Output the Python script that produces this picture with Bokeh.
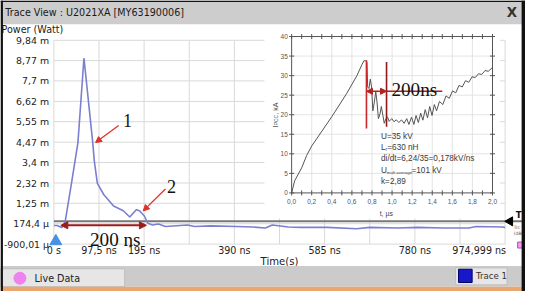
import numpy as np
from bokeh.plotting import figure
from bokeh.models import Range1d, Arrow, NormalHead
from bokeh.core.properties import value
from bokeh.embed import file_html
from bokeh.resources import INLINE

# ------------------------------------------------------------------ data
# main trace: power (mW) versus time (ns)
trace_t_ns = [0, 7, 17, 21, 24.5, 38, 52, 65, 84, 87.5, 94, 108, 129, 150, 164,
              178, 185, 195.5, 203, 213, 226, 241, 289, 304, 339, 395, 430, 457,
              472, 507, 535, 591, 654, 682, 744, 786, 842, 897, 912, 969, 975]
trace_p_mw = [0.08, 0.08, -0.02, 0.10, 0.30, 2.30, 4.45, 8.91, 4.45, 3.45, 2.30,
              1.70, 1.11, 0.86, 0.53, 0.91, 0.86, 0.58, 0.20, 0.11, 0.16, 0.03,
              0.11, 0.03, 0.06, 0.03, 0.00, -0.05, 0.11, 0.00, -0.02, -0.02,
              -0.09, -0.02, -0.05, -0.02, -0.05, -0.05, 0.03, 0.00, -0.02]
trigger_level_mw = 0.3

y_tick_vals = [-0.90001, 0.1744, 1.25, 2.32, 3.40, 4.47, 5.55, 6.62, 7.70, 8.77, 9.84]
y_tick_labels = ["-900,01 µ", "174,4 µ", "1,25 m", "2,32 m", "3,4 m", "4,47 m",
                 "5,55 m", "6,62 m", "7,7 m", "8,77 m", "9,84 m"]
x_grid_vals = [0, 97.5, 195, 292.5, 390, 487.5, 585, 682.5, 780, 877.5, 975]
x_tick_vals = [0, 97.5, 195, 390, 585, 780]
x_tick_labels = ["0 s", "97,5 ns", "195 ns", "390 ns", "585 ns", "780 ns"]
x_last_tick = 974.999
x_last_label = "974,999 ns"

# inset: current (kA) versus time (µs)
inset_t_us = [0.0, 0.03, 0.1, 0.15, 0.2, 0.4, 0.55, 0.65, 0.7, 0.72, 0.74, 0.75,
              0.757, 0.77, 0.783, 0.796, 0.809, 0.822, 0.838, 0.851, 0.864, 0.88,
              0.893, 0.909, 0.922, 0.939, 0.955, 0.971, 0.997, 1.019, 1.042, 1.068,
              1.094, 1.12, 1.146, 1.168, 1.194, 1.217, 1.239, 1.262, 1.285, 1.307,
              1.33, 1.353, 1.375, 1.398, 1.421, 1.443, 1.472, 1.505, 1.537, 1.57,
              1.602, 1.634, 1.667, 1.699, 1.731, 1.764, 1.796, 1.828, 1.861, 1.893,
              1.926, 1.958, 2.0]
inset_i_ka = [0.0, 3.1, 6.4, 9.6, 12.0, 19.5, 25.5, 30.0, 32.8, 33.8, 33.8, 33.5,
              27.1, 26.7, 29.1, 27.1, 21.0, 23.0, 25.9, 23.0, 19.0, 20.2,
              22.1, 19.8, 17.8, 19.0, 19.4, 18.3, 19.0, 18.2, 18.7, 18.0,
              18.7, 17.8, 19.0, 17.5, 19.4, 17.5, 19.8, 18.0, 20.4, 18.6,
              21.3, 19.2, 22.1, 19.8, 22.6, 21.0, 23.4, 22.6, 24.8, 24.2,
              26.1, 25.6, 27.5, 27.1, 28.7, 28.3, 29.7, 29.5, 30.5, 30.3,
              31.3, 31.1, 32.1]
inset_x_ticks = [0.0, 0.2, 0.4, 0.6, 0.8, 1.0, 1.2, 1.4, 1.6, 1.8, 2.0]
inset_x_labels = ["0,0", "0,2", "0,4", "0,6", "0,8", "1,0", "1,2", "1,4", "1,6", "1,8", "2,0"]
inset_x_minor = [0.1, 0.3, 0.5, 0.7, 0.9, 1.1, 1.3, 1.5, 1.7, 1.9]
inset_y_ticks = [0, 5, 10, 15, 20, 25, 30, 35, 40]
inset_y_labels = ["0", "5", "10", "15", "20", "25", "30", "35", "40"]

# 200 ns markers
main_mark_ns = [15, 200]          # ns, on the power trace
main_mark_level = 0.09            # mW
inset_mark_us = [0.745, 0.945]    # µs, on the current trace
inset_mark_ka = 26.0              # kA
inset_line1_ka = [16.5, 33.9]
inset_line2_ka = [16.9, 33.5]
inset_mark_tail_us = 1.5

# numbered call-outs (tip on the trace, tail near the number)
callout_tip_x = [90, 193]
callout_tip_y = [4.45, 0.85]
callout_tail_x = [140, 241]
callout_tail_y = [5.35, 2.0]
callout_text = ["1", "2"]
callout_text_x = [159, 254]
callout_text_y = [5.64, 2.15]

# ------------------------------------------------------------------ layout
W, H = 525, 291              # canvas size (fits the window with its 8px margin)
REF_W, REF_H = 541, 307      # the screenshot extent mapped onto the canvas
SX, SY = W / REF_W, H / REF_H
MAIN_L, MAIN_R, MAIN_T, MAIN_B = 55, 520, 42, 257
INS_L, INS_R, INS_T, INS_B = 300, 507, 38, 203


def fit(v0, p0, v1, p1):
    k = (v1 - v0) / (p1 - p0)
    return lambda q: v0 + (q - p0) * k


def fs(n):
    return f"{n * 0.96:.1f}px"


fx = fit(x_grid_vals[0], MAIN_L, x_grid_vals[-1], MAIN_R)
fy = fit(y_tick_vals[0], MAIN_B, y_tick_vals[-1], MAIN_T)
gx = fit(inset_x_ticks[0], INS_L, inset_x_ticks[-1], INS_R)
gy = fit(inset_y_ticks[0], INS_B, inset_y_ticks[-1], INS_T)

p = figure(width=W, height=H,
           x_range=Range1d(fx(0), fx(REF_W)),
           y_range=Range1d(fy(REF_H), fy(0)),
           output_backend="svg", toolbar_location=None, min_border=0,
           x_axis_type=None, y_axis_type=None, title=None,
           outline_line_color=None, background_fill_color="white",
           border_fill_color="white")
p.extra_x_ranges = {"inset": Range1d(gx(0), gx(REF_W)),
                    "px": Range1d(0, REF_W)}
p.extra_y_ranges = {"inset": Range1d(gy(REF_H), gy(0)),
                    "px": Range1d(REF_H, 0)}

SANS = value("DejaVu Sans")
ARIAL = value("Liberation Sans")
SERIF = value("Liberation Serif")
PX = dict(x_range_name="px", y_range_name="px")
IN = dict(x_range_name="inset", y_range_name="inset")
GRID = "#d9d9d9"
TRACE = "#7b7fcf"
RED = "#e0302a"
DARKRED = "#9c1c1c"

# title bar
p.quad(left=[0], right=[REF_W], top=[0], bottom=[25], fill_color="#cdcdcd",
       line_color=None, **PX)
p.text(x=[5], y=[13], text=["Trace View : U2021XA [MY63190006]"], text_font=SANS,
       text_font_size=fs(10), text_color="#1a1a1a", text_align="left",
       text_baseline="middle", **PX)
p.text(x=[527], y=[13], text=["X"], text_font=SANS, text_font_style="bold",
       text_font_size=fs(14), text_color="#333333", text_align="center",
       text_baseline="middle", **PX)
p.text(x=[1], y=[31], text=["Power (Watt)"], text_font=SANS, text_font_size=fs(10),
       text_color="#222222", text_align="left", text_baseline="middle", **PX)

# main grid
p.segment(x0=x_grid_vals, x1=x_grid_vals, y0=[y_tick_vals[0]] * len(x_grid_vals),
          y1=[y_tick_vals[-1]] * len(x_grid_vals), line_color=GRID, line_width=1)
p.segment(x0=[x_grid_vals[0]] * len(y_tick_vals), x1=[x_grid_vals[-1]] * len(y_tick_vals),
          y0=y_tick_vals, y1=y_tick_vals, line_color=GRID, line_width=1)

# main axis labels
p.text(x=[x_grid_vals[0]] * len(y_tick_vals), y=y_tick_vals, text=y_tick_labels,
       x_offset=-5 * SX, text_font=SANS, text_font_size=fs(9.8), text_color="#222222",
       text_align="right", text_baseline="middle")
p.text(x=x_tick_vals, y=[y_tick_vals[0]] * len(x_tick_vals), text=x_tick_labels,
       y_offset=7 * SY, text_font=SANS, text_font_size=fs(10), text_color="#222222",
       text_align="center", text_baseline="middle")
p.text(x=[x_last_tick], y=[y_tick_vals[0]], text=[x_last_label], x_offset=1,
       y_offset=7 * SY, text_font=SANS, text_font_size=fs(10), text_color="#222222",
       text_align="right", text_baseline="middle")
p.text(x=[(x_grid_vals[0] + x_grid_vals[-1]) / 2], y=[y_tick_vals[0]], text=["Time(s)"],
       y_offset=18 * SY, text_font=SANS, text_font_size=fs(10.5), text_color="#222222",
       text_align="center", text_baseline="middle")

# trigger level line and markers
p.segment(x0=[x_grid_vals[0]], x1=[p.x_range.end], y0=[trigger_level_mw],
          y1=[trigger_level_mw], line_color="#777777", line_width=2)
p.scatter(x=[525], y=[233], marker="triangle", size=9, angle=np.pi / 2,
          fill_color="black", line_color="black", **PX)
p.text(x=[534], y=[226], text=["T"], text_font=SANS, text_font_style="bold",
       text_font_size=fs(9), text_color="#111111", text_align="center",
       text_baseline="middle", **PX)
p.text(x=[529], y=[240], text=["Trc 1"], text_font=SANS, text_font_size="4.5px",
       text_color="#555555", text_align="left", text_baseline="middle", **PX)
p.text(x=[529], y=[246], text=["(dBm"], text_font=SANS, text_font_size="4.5px",
       text_color="#555555", text_align="left", text_baseline="middle", **PX)
p.scatter(x=[536], y=[258], marker="square", size=6, fill_color="#f0a0f0",
          line_color="#c040c0", **PX)
p.scatter(x=[57], y=[254], marker="triangle", size=12, fill_color="#4a90e2",
          line_color="#4a90e2", **PX)

# trace
p.line(trace_t_ns, trace_p_mw, line_color=TRACE, line_width=1.6)

# ------------------------------------------------------------------ inset
p.quad(left=[272], right=[515], top=[28], bottom=[230], fill_color="white",
       line_color=None, **PX)
p.segment(x0=inset_x_ticks[1:-1], x1=inset_x_ticks[1:-1],
          y0=[inset_y_ticks[0]] * 9, y1=[inset_y_ticks[-1]] * 9,
          line_color="#dddddd", line_width=0.8, **IN)
p.segment(x0=[inset_x_ticks[0]] * 7, x1=[inset_x_ticks[-1]] * 7,
          y0=inset_y_ticks[1:-1], y1=inset_y_ticks[1:-1],
          line_color="#dddddd", line_width=0.8, **IN)
p.quad(left=[inset_x_ticks[0]], right=[inset_x_ticks[-1]], bottom=[inset_y_ticks[0]],
       top=[inset_y_ticks[-1]], fill_color=None, line_color="#555555", line_width=1, **IN)
xt_all = inset_x_ticks + inset_x_minor
for yy in (inset_y_ticks[0], inset_y_ticks[-1]):
    p.scatter(x=xt_all, y=[yy] * len(xt_all), marker="dash", size=5, angle=np.pi / 2,
              line_color="#555555", **IN)
for xx in (inset_x_ticks[0], inset_x_ticks[-1]):
    p.scatter(x=[xx] * len(inset_y_ticks), y=inset_y_ticks, marker="dash", size=5,
              line_color="#555555", **IN)
p.text(x=inset_x_ticks, y=[inset_y_ticks[0]] * len(inset_x_ticks), text=inset_x_labels,
       y_offset=9.5 * SY, text_font=ARIAL, text_font_size=fs(6.8), text_color="#555555",
       text_align="center", text_baseline="middle", **IN)
p.text(x=[inset_x_ticks[0]] * len(inset_y_ticks), y=inset_y_ticks, text=inset_y_labels,
       x_offset=-4 * SX, text_font=ARIAL, text_font_size=fs(6.8), text_color="#555555",
       text_align="right", text_baseline="middle", **IN)
p.text(x=[1.0], y=[0], text=["t, µs"], x_offset=-6 * SX, y_offset=21.5 * SY,
       text_font=ARIAL, text_font_size=fs(7.2), text_color="#444444",
       text_align="center", text_baseline="middle", **IN)
# rotated y label: I_PCC, kA
p.text(x=[283], y=[134], text=["I"], angle=np.pi / 2, text_font=ARIAL,
       text_font_size=fs(7.5), text_color="#444444", text_align="left",
       text_baseline="middle", **PX)
p.text(x=[284.5], y=[131.5], text=["PCC"], angle=np.pi / 2, text_font=ARIAL,
       text_font_size=fs(5), text_color="#444444", text_align="left",
       text_baseline="middle", **PX)
p.text(x=[283], y=[120.5], text=[", kA"], angle=np.pi / 2, text_font=ARIAL,
       text_font_size=fs(7.5), text_color="#444444", text_align="left",
       text_baseline="middle", **PX)

p.line(inset_t_us, inset_i_ka, line_color="#555555", line_width=1, **IN)

# inset parameter notes
note_x = 0.89
note_kw = dict(text_font=ARIAL, text_color="#3a3a3a", text_align="left",
               text_baseline="middle", **IN)
p.text(x=[note_x], y=[14.5], text=["U=35 kV"], text_font_size=fs(8.5), **note_kw)
p.text(x=[note_x], y=[11.6], text=["L"], text_font_size=fs(8.5), **note_kw)
p.text(x=[note_x], y=[11.6], text=["r"], x_offset=4.6, y_offset=2,
       text_font_size=fs(5), **note_kw)
p.text(x=[note_x], y=[11.6], text=["=630 nH"], x_offset=6.3, text_font_size=fs(8.5), **note_kw)
p.text(x=[note_x], y=[8.7], text=["di/dt=6,24/35=0,178kV/ns"], text_font_size=fs(8.5), **note_kw)
p.text(x=[note_x], y=[5.8], text=["U"], text_font_size=fs(8.5), **note_kw)
p.text(x=[note_x], y=[5.8], text=["mult average"], x_offset=5.8, y_offset=2.4,
       text_font_size=fs(4.6), **note_kw)
p.text(x=[note_x], y=[5.8], text=["=101 kV"], x_offset=30.5, text_font_size=fs(8.5), **note_kw)
p.text(x=[note_x], y=[3.0], text=["k=2,89"], text_font_size=fs(8.5), **note_kw)

# inset 200 ns marker
p.segment(x0=[inset_mark_us[0]], x1=[inset_mark_us[0]], y0=[inset_line1_ka[0]],
          y1=[inset_line1_ka[1]], line_color="#c8282d", line_width=1.6, **IN)
p.segment(x0=[inset_mark_us[1]], x1=[inset_mark_us[1]], y0=[inset_line2_ka[0]],
          y1=[inset_line2_ka[1]], line_color="#8e1b1b", line_width=1.6, **IN)
p.segment(x0=[inset_mark_us[1]], x1=[inset_mark_tail_us], y0=[inset_mark_ka],
          y1=[inset_mark_ka], line_color="#a82222", line_width=1.4, **IN)
p.add_layout(Arrow(start=NormalHead(size=6, fill_color="#b22222", line_color="#b22222"),
                   end=NormalHead(size=6, fill_color="#b22222", line_color="#b22222"),
                   x_start=inset_mark_us[0], x_end=inset_mark_us[1], y_start=inset_mark_ka,
                   y_end=inset_mark_ka, line_color="#b22222", line_width=1.5,
                   x_range_name="inset", y_range_name="inset"))
p.text(x=[inset_mark_us[1]], y=[inset_mark_ka], text=["200ns"], x_offset=5 * SX,
       y_offset=-1.5, text_font=SERIF, text_font_size=fs(20), text_color="#111111",
       text_align="left", text_baseline="alphabetic", **IN)

# ------------------------------------------------------------------ main annotations
p.add_layout(Arrow(start=NormalHead(size=7, fill_color=DARKRED, line_color=DARKRED),
                   end=NormalHead(size=7, fill_color=DARKRED, line_color=DARKRED),
                   x_start=main_mark_ns[0], x_end=main_mark_ns[1], y_start=main_mark_level,
                   y_end=main_mark_level, line_color=DARKRED, line_width=2))
p.text(x=[(main_mark_ns[0] + main_mark_ns[1]) / 2], y=[main_mark_level], text=["200 ns"],
       x_offset=12 * SX, y_offset=15 * SY, text_font=SERIF, text_font_size=fs(20),
       text_color="#111111", text_align="center", text_baseline="alphabetic")
for i in range(len(callout_text)):
    p.add_layout(Arrow(end=NormalHead(size=6, fill_color=RED, line_color=RED),
                       x_start=callout_tail_x[i], y_start=callout_tail_y[i],
                       x_end=callout_tip_x[i], y_end=callout_tip_y[i],
                       line_color=RED, line_width=1.3))
p.text(x=callout_text_x, y=callout_text_y, text=callout_text, text_font=SERIF,
       text_font_size=fs(19), text_color="#111111", text_align="center",
       text_baseline="middle")

# ------------------------------------------------------------------ bottom bar
p.quad(left=[0], right=[REF_W], top=[280], bottom=[302], fill_color="#cbcbcb",
       line_color=None, **PX)
p.quad(left=[0], right=[128], top=[283], bottom=[302], fill_color="#e6e6e6",
       line_color="#bdbdbd", **PX)
p.scatter(x=[20], y=[293], marker="circle", size=12, fill_color="#ee82ee",
          line_color="#ee82ee", **PX)
p.text(x=[35], y=[293], text=["Live Data"], text_font=SANS, text_font_size=fs(10),
       text_color="#222222", text_align="left", text_baseline="middle", **PX)
p.quad(left=[469], right=[522], top=[282], bottom=[300], fill_color="#e6e6e6",
       line_color="#bdbdbd", **PX)
p.quad(left=[472], right=[486], top=[283.5], bottom=[297.5], fill_color="#1818c8",
       line_color="#000066", **PX)
p.text(x=[490], y=[291], text=["Trace 1"], text_font=SANS, text_font_size=fs(9),
       text_color="#333333", text_align="left", text_baseline="middle", **PX)
p.quad(left=[0], right=[REF_W], top=[302], bottom=[REF_H], fill_color="#e8a870",
       line_color=None, **PX)

# window frame
p.quad(left=[0, 537, 0], right=[2.5, REF_W, REF_W], top=[0, 0, 0], bottom=[REF_H, REF_H, 1.5],
       fill_color="#111111", line_color=None, **PX)

open("out.html", "w").write(file_html(p, INLINE))
